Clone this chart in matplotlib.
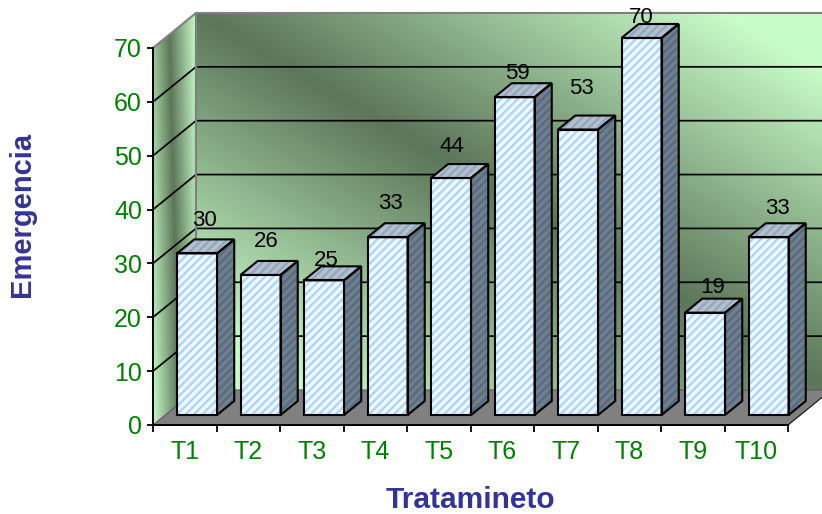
import numpy as np
import matplotlib
matplotlib.use('Agg')
import matplotlib.pyplot as plt
from matplotlib.colors import LinearSegmentedColormap
from matplotlib.patches import Polygon

# Data
treatments = ['T1', 'T2', 'T3', 'T4', 'T5', 'T6', 'T7', 'T8', 'T9', 'T10']
emergence = [30, 26, 25, 33, 44, 59, 53, 70, 19, 33]
y_ticks = [0, 10, 20, 30, 40, 50, 60, 70]

# Hand placement of the value labels, pixels from the front top of each bar
label_dx = [7, 6, 2, 3, 1, 3, 3, 0, 8, 9]
label_dy = [33, 33, 20, 34, 32, 24, 41, 20, 25, 29]

plt.rcParams['font.family'] = ['Liberation Sans', 'DejaVu Sans']
plt.rcParams['hatch.linewidth'] = 1.7

W, H = 822, 514
X0, Y0 = 153, 425          # pixel position of the front origin
PX_X, PX_Y = 63.5, 5.386   # pixels per category and per unit
DEPTH_X = 43 / PX_X
DEPTH_Y = 35 / PX_Y
BAR_NEAR, BAR_FAR = 10 / 35, 24 / 35
BAR_W = 40 / PX_X
GAP = (1 - BAR_W) / 2

fig = plt.figure(figsize=(W / 100, H / 100), dpi=100, facecolor='white')
ax = fig.add_axes([0, 0, 1, 1], facecolor='none')
ax.set_xlim(-X0 / PX_X, (W - X0) / PX_X)
ax.set_ylim((Y0 - H) / PX_Y, Y0 / PX_Y)


def proj(x, v, d=0.0):
    return x + d * DEPTH_X, v + d * DEPTH_Y


wall_cmap = LinearSegmentedColormap.from_list('wall', ['#5c7659', '#c8fcc8'])


def wall(pts, xr, yr, slope=1.0, shift=0.0, gain=1.0):
    # diagonal light-dark-light gradient, clipped to the wall polygon
    u, w = np.meshgrid(np.linspace(0, 1, 300), np.linspace(0, 1, 300))
    t = np.clip(np.abs(u - slope * (1 - w) - shift) * gain, 0, 1)
    im = ax.imshow(t, extent=(xr[0], xr[1], yr[0], yr[1]), origin='lower',
                   cmap=wall_cmap, vmin=0, vmax=1, aspect='auto', zorder=1)
    poly = Polygon(pts, closed=True, transform=ax.transData, fc='none', ec='none')
    ax.add_patch(poly)
    im.set_clip_path(poly)


# Back wall and left wall
x_end = len(treatments)
top = y_ticks[-1]
back = [proj(0, 0, 1), proj(x_end, 0, 1), proj(x_end, top, 1), proj(0, top, 1)]
side = [proj(0, 0, 0), proj(0, 0, 1), proj(0, top, 1), proj(0, top, 0)]
wall(back, (proj(0, 0, 1)[0], proj(x_end, 0, 1)[0]), (proj(0, 0, 1)[1], proj(0, top, 1)[1]), gain=1.2)
wall(side, (0, DEPTH_X), (0, proj(0, top, 1)[1]), slope=0.25, shift=0.37, gain=1.6)
ax.set_xlim(-X0 / PX_X, (W - X0) / PX_X)
ax.set_ylim((Y0 - H) / PX_Y, Y0 / PX_Y)

# Floor
floor = [proj(0, 0, 0), proj(x_end, 0, 0), proj(x_end, 0, 1), proj(0, 0, 1)]
ax.add_patch(Polygon(floor, closed=True, fc='#808080', ec='#5a5a5a', lw=0.8, zorder=2))

# Grid lines on both walls
for v in y_ticks[1:-1]:
    xs, ys = zip(*[proj(0, v, 0), proj(0, v, 1), proj(x_end, v, 1)])
    ax.plot(xs, ys, color='black', lw=1.25, zorder=3, solid_joinstyle='miter')

# Wall outline
xs, ys = zip(*[proj(0, top, 0), proj(0, top, 1), proj(x_end, top, 1)])
ax.plot(xs, ys, color='#808080', lw=1.5, zorder=3)
xs, ys = zip(*[proj(0, 0, 1), proj(0, top, 1)])
ax.plot(xs, ys, color='#808080', lw=1.6, zorder=3)


def face(pts, fill, hatch_col, z):
    ax.add_patch(Polygon(pts, closed=True, fc=fill, ec=hatch_col, hatch='////', lw=0, zorder=z))
    ax.add_patch(Polygon(pts, closed=True, fc='none', ec='black', lw=1.5, zorder=z + 0.1,
                         joinstyle='miter'))


# Bars
for i, val in enumerate(emergence):
    x1 = i + GAP
    x2 = x1 + BAR_W
    z = 5 + i
    face([proj(x2, 0, BAR_NEAR), proj(x2, 0, BAR_FAR), proj(x2, val, BAR_FAR), proj(x2, val, BAR_NEAR)],
         '#757d85', '#4f6d8c', z)
    face([proj(x1, val, BAR_NEAR), proj(x2, val, BAR_NEAR), proj(x2, val, BAR_FAR), proj(x1, val, BAR_FAR)],
         '#b4c0cc', '#92a8c0', z)
    face([proj(x1, 0, BAR_NEAR), proj(x2, 0, BAR_NEAR), proj(x2, val, BAR_NEAR), proj(x1, val, BAR_NEAR)],
         '#f0f8ff', '#acd5fb', z)
    ax.annotate(str(val), xy=proj(x1 + BAR_W / 2, val, BAR_NEAR),
                xytext=(label_dx[i] * 0.72, label_dy[i] * 0.72), textcoords='offset points',
                ha='center', va='center', fontsize=16, color='black', zorder=30)

# Axes lines, ticks and tick labels
for name in ('top', 'right'):
    ax.spines[name].set_visible(False)
ax.spines['left'].set_position(('data', 0))
ax.spines['bottom'].set_position(('data', 0))
ax.spines['left'].set_bounds(0, top)
ax.spines['bottom'].set_bounds(0, x_end)
ax.spines['left'].set_linewidth(1.4)
ax.spines['bottom'].set_linewidth(1.4)
ax.spines['left'].set_zorder(20)
ax.spines['bottom'].set_zorder(20)

ax.set_yticks(y_ticks)
ax.set_yticklabels([str(v) for v in y_ticks])
ax.tick_params(axis='y', length=4, width=1.3, colors='black', labelcolor='#008000',
               labelsize=18, pad=4)
ax.set_xticks(range(x_end + 1))
ax.set_xticklabels([])
ax.set_xticks(np.arange(x_end) + 0.5, minor=True)
ax.set_xticklabels(treatments, minor=True)
ax.tick_params(axis='x', which='major', length=5, width=1.3, color='black')
ax.tick_params(axis='x', which='minor', length=0, labelcolor='#008000', labelsize=18, pad=11)

# Slanted front edge of the floor
xs, ys = zip(*[proj(x_end, 0, 0), proj(x_end, 0, 1)])
ax.plot(xs, ys, color='#222222', lw=0.8, zorder=4)

fig.text(470.5 / W, 1 - 500.5 / H, 'Tratamineto', ha='center', va='center', fontsize=21.5,
         fontweight='bold', color='#333399')
fig.text(22 / W, 1 - 214.5 / H, 'Emergencia', ha='center', va='center', rotation=90, fontsize=21,
         fontweight='bold', color='#333399')

fig.savefig('out.png', dpi=100)
